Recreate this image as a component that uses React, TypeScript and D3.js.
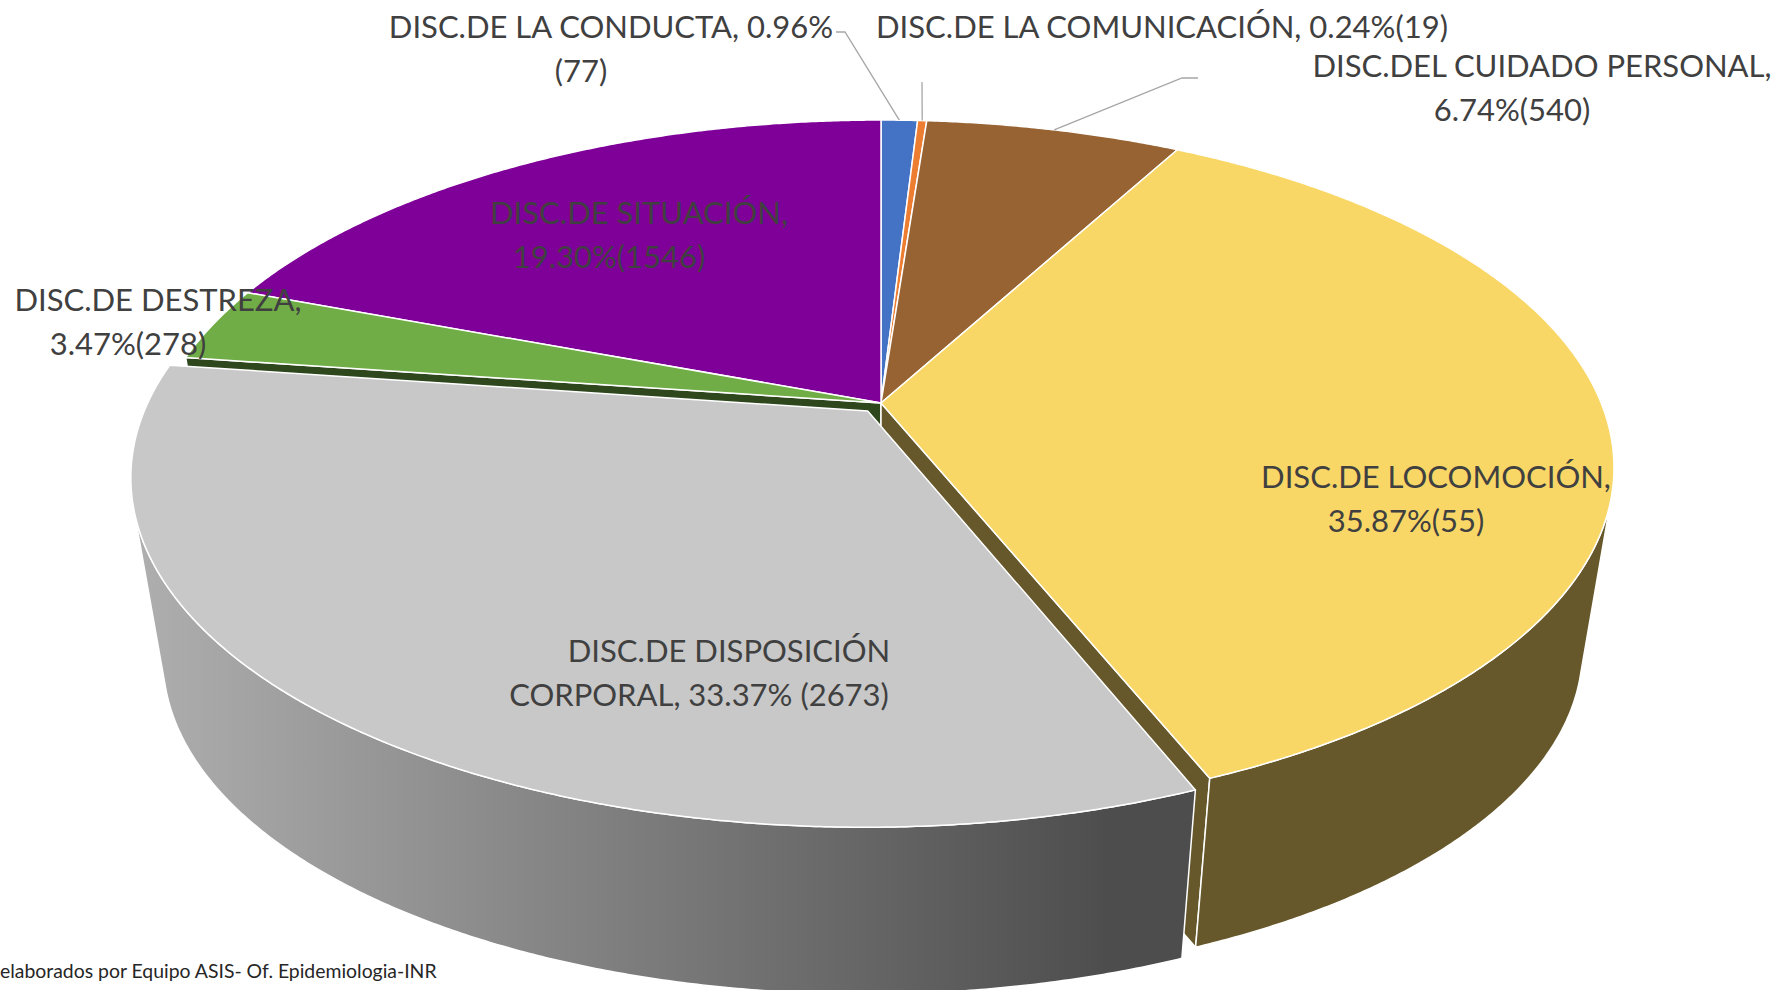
import React, { useEffect, useRef } from 'react';
import * as d3 from 'd3';

// data
const categories = [
  'DISC.DE LA CONDUCTA',
  'DISC.DE LA COMUNICACIÓN',
  'DISC.DEL CUIDADO PERSONAL',
  'DISC.DE LOCOMOCIÓN',
  'DISC.DE DISPOSICIÓN CORPORAL',
  'DISC.DE DESTREZA',
  'DISC.DE SITUACIÓN',
];
const percents = [0.96, 0.24, 6.74, 35.87, 33.37, 3.47, 19.3];
const counts = [77, 19, 540, 55, 2673, 278, 1546];
const exploded = [0, 0, 0, 0, 1, 0, 0];
const footnote = 'elaborados por Equipo ASIS- Of. Epidemiologia-INR';

const colors = ['#4472C4', '#ED7D31', '#976332', '#F9D766', '#C8C8C8', '#70AD47', '#7F0099'];

// layout of the data labels (first baseline, centre x, how the text wraps)
const labelLayout = [
  { x: 596, y: 38, mode: 'pct' },
  { x: 1162, y: 38, mode: 'single' },
  { x: 1527, y: 77, mode: 'comma' },
  { x: 1421, y: 488, mode: 'comma' },
  { x: 714, y: 662, mode: 'word' },
  { x: 143, y: 311, mode: 'comma' },
  { x: 624, y: 224, mode: 'comma' },
];
const leaders: { [k: number]: number[][] } = {
  0: [[836, 32], [845, 32]],
  1: [[922, 82]],
  2: [[1198, 78], [1182, 78]],
};

const W = 1778, H = 990;

const Pie3D = () => {
  const ref = useRef<SVGSVGElement>(null);

  const draw = () => {
    const svg = d3.select(ref.current);
    svg.selectAll('*').remove();

    // camera / perspective of the top face
    const cx = 881, cy = 403;
    const fx = 3534, fy = 4016;
    const D = 4.907;
    const s = 0.41, c = Math.sqrt(1 - s * s);
    const explode = 0.03;
    // the walls run down towards a vanishing point below the pie
    const vp: [number, number] = [881, 4707];
    const kBottom = 0.957;

    const project = (X: number, Y: number): [number, number] => {
      const depth = D - Y * c;
      return [cx + (fx * X) / depth, cy + (fy * Y * s) / depth];
    };
    const down = (p: [number, number]): [number, number] => [
      vp[0] + kBottom * (p[0] - vp[0]),
      vp[1] + kBottom * (p[1] - vp[1]),
    ];
    const camera = [0, D * c];

    const shade = (col: string, k: number) => {
      const r = d3.rgb(col);
      return d3.rgb(r.r * k, r.g * k, r.b * k).formatHex();
    };

    const arcs = d3.pie<number>().sort(null).value(d => d)(percents);
    const line = d3.line();

    const defs = svg.append('defs');
    const grad = defs.append('linearGradient')
      .attr('id', 'grayWall')
      .attr('gradientUnits', 'userSpaceOnUse')
      .attr('x1', 130).attr('x2', 1112).attr('y1', 0).attr('y2', 0);
    grad.append('stop').attr('offset', '0%').attr('stop-color', '#AFAFAF');
    grad.append('stop').attr('offset', '100%').attr('stop-color', '#4D4D4D');

    const slices = arcs.map((a, i) => {
      const mid = (a.startAngle + a.endAngle) / 2;
      const e = exploded[i] ? explode : 0;
      return {
        i,
        a0: a.startAngle,
        a1: a.endAngle,
        mid,
        ox: e * Math.sin(mid),
        oy: -e * Math.cos(mid),
        depthKey: -Math.cos(mid),
      };
    });

    const order = slices.slice().sort((p, q) => p.depthKey - q.depthKey);
    const g = svg.append('g');
    const fullTurn = d3.range(0, 2 * Math.PI, 0.002);

    order.forEach(sl => {
      const { i, a0, a1, ox, oy } = sl;
      const rim = (a: number) => project(ox + Math.sin(a), oy - Math.cos(a));
      const centre = project(ox, oy);
      const col = colors[i];
      const side = shade(col, 0.41);
      const sample = (b0: number, b1: number) => {
        const n = Math.max(2, Math.ceil((b1 - b0) / 0.006));
        return d3.range(n + 1).map(k => b0 + ((b1 - b0) * k) / n);
      };

      // radial side faces
      const faceVisible = (nx: number, ny: number) =>
        (camera[0] - ox) * nx + (camera[1] - oy) * ny > 0.01;
      [
        { a: a0, nx: -Math.cos(a0), ny: -Math.sin(a0) },
        { a: a1, nx: Math.cos(a1), ny: Math.sin(a1) },
      ].forEach(f => {
        if (!faceVisible(f.nx, f.ny)) return;
        const r = rim(f.a);
        const pts = [centre, r, down(r), down(centre)];
        g.append('path')
          .attr('d', line(pts) + 'Z')
          .attr('fill', side)
          .attr('stroke', '#fff')
          .attr('stroke-width', 1.5)
          .attr('stroke-linejoin', 'round');
      });

      // outer wall, only the part that faces the viewer
      const slope = (a: number) => {
        const p = rim(a);
        return (p[0] - vp[0]) / (vp[1] - p[1]);
      };
      const aR = fullTurn[d3.maxIndex(fullTurn, slope)];
      const aL = fullTurn[d3.minIndex(fullTurn, slope)];
      const w0 = Math.max(a0, aR), w1 = Math.min(a1, aL);
      if (w1 > w0) {
        const angles = sample(w0, w1);
        const topArc = angles.map(rim);
        const wall = topArc.concat(topArc.slice().reverse().map(down));
        g.append('path')
          .attr('d', line(wall) + 'Z')
          .attr('fill', i === 4 ? 'url(#grayWall)' : side)
          .attr('stroke', '#fff')
          .attr('stroke-width', 1.5)
          .attr('stroke-linejoin', 'round');
      }

      // top
      const top = [centre].concat(sample(a0, a1).map(rim));
      g.append('path')
        .attr('d', line(top) + 'Z')
        .attr('fill', col)
        .attr('stroke', '#fff')
        .attr('stroke-width', 1.5)
        .attr('stroke-linejoin', 'round');
    });

    // leader lines
    Object.keys(leaders).forEach(key => {
      const i = +key;
      const sl = slices[i];
      const end = project(sl.ox + Math.sin(sl.mid), sl.oy - Math.cos(sl.mid));
      svg.append('path')
        .attr('d', line(leaders[i].concat([end]) as [number, number][]))
        .attr('fill', 'none')
        .attr('stroke', '#A6A6A6')
        .attr('stroke-width', 1.3);
    });

    // labels
    const labelLines = (i: number) => {
      const pct = `${percents[i].toFixed(2)}%`;
      const mode = labelLayout[i].mode;
      if (mode === 'pct') return [`${categories[i]}, ${pct}`, `(${counts[i]})`];
      if (mode === 'single') return [`${categories[i]}, ${pct}(${counts[i]})`];
      if (mode === 'word') {
        const words = categories[i].split(' ');
        return [words.slice(0, -1).join(' '), `${words[words.length - 1]}, ${pct} (${counts[i]})`];
      }
      return [`${categories[i]},`, `${pct}(${counts[i]})`];
    };

    labelLayout.forEach((lay, i) => {
      const lines = labelLines(i);
      const t = svg.append('text')
        .attr('text-anchor', 'middle')
        .style('font-family', 'Lato, "Open Sans", sans-serif')
        .style('font-size', '31px')
        .style('fill', '#404040');
      lines.forEach((ln, k) => {
        t.append('tspan')
          .attr('x', lay.x + (lines.length > 1 ? (k === 0 ? 15 : -15) : 0))
          .attr('y', lay.y + k * 44)
          .text(ln);
      });
    });

    svg.append('text')
      .attr('x', 0)
      .attr('y', 978)
      .style('font-family', 'Lato, "Open Sans", sans-serif')
      .style('font-size', '19.4px')
      .style('fill', '#262626')
      .text(footnote);
  };

  useEffect(() => draw());

  return (
    <svg
      ref={ref}
      width={W}
      height={H}
      style={{ position: 'absolute', left: 0, top: 0, background: '#fff' }}
    />
  );
};

export default function App() {
  return <Pie3D />;
}
